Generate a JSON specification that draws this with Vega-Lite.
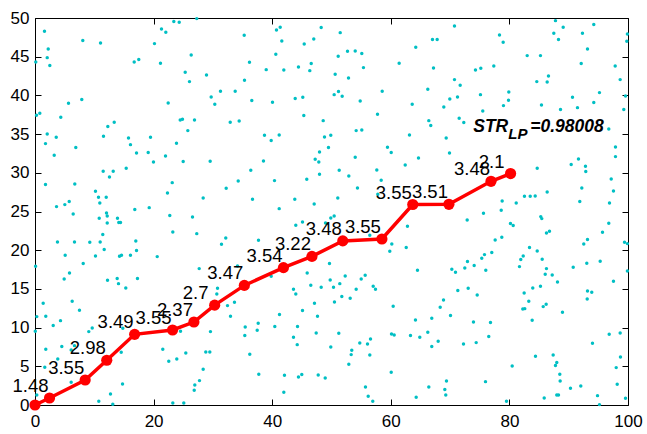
{
  "$schema": "https://vega.github.io/schema/vega-lite/v6.json",
  "width": 593,
  "height": 387,
  "autosize": "none",
  "padding": {"left": 35, "top": 18, "right": 19, "bottom": 29},
  "background": "white",
  "config": {
    "view": {"stroke": null},
    "axis": {
      "domainColor": "#000000",
      "domainWidth": 1,
      "tickColor": "#000000",
      "tickWidth": 1,
      "tickSize": -6,
      "grid": false,
      "labelFont": "Liberation Sans",
      "labelFontSize": 17,
      "labelColor": "#000000",
      "labelFlush": false,
      "labelOverlap": false
    }
  },
  "datasets": {
    "dots": [
      {"x":1.60,"y":48.28},{"x":8.06,"y":47.08},{"x":11.05,"y":46.77},{"x":2.23,"y":46.0},{"x":2.06,"y":44.88},{"x":0.13,"y":44.32},{"x":2.50,"y":43.85},{"x":20.15,"y":46.69},{"x":21.33,"y":48.58},{"x":22.06,"y":48.15},{"x":23.41,"y":49.54},{"x":24.32,"y":49.44},{"x":27.28,"y":49.92},{"x":26.34,"y":45.22},{"x":16.73,"y":44.32},{"x":17.50,"y":44.63},{"x":21.16,"y":44.15},{"x":25.33,"y":42.98},{"x":26.05,"y":41.78},{"x":28.92,"y":42.64},{"x":31.28,"y":40.53},{"x":29.71,"y":39.79},{"x":30.32,"y":38.85},{"x":5.65,"y":38.98},{"x":7.89,"y":39.46},{"x":22.46,"y":39.02},{"x":0.81,"y":37.69},{"x":0.25,"y":37.43},{"x":4.35,"y":37.17},{"x":13.36,"y":36.52},{"x":12.28,"y":35.97},{"x":24.49,"y":36.82},{"x":24.87,"y":36.91},{"x":26.90,"y":36.82},{"x":32.92,"y":36.52},{"x":25.77,"y":35.45},{"x":2.06,"y":35.01},{"x":3.58,"y":34.59},{"x":11.55,"y":34.72},{"x":15.77,"y":34.50},{"x":19.48,"y":34.59},{"x":1.77,"y":33.77},{"x":16.10,"y":33.64},{"x":23.86,"y":33.81},{"x":6.88,"y":33.26},
      {"x":35.28,"y":47.77},{"x":40.72,"y":48.45},{"x":41.35,"y":48.80},{"x":48.26,"y":48.76},{"x":51.47,"y":48.11},{"x":41.62,"y":47.03},{"x":45.40,"y":46.64},{"x":47.01,"y":47.29},{"x":64.21,"y":46.21},{"x":40.61,"y":45.31},{"x":51.13,"y":45.05},{"x":52.70,"y":45.70},{"x":54.00,"y":45.74},{"x":55.11,"y":45.40},{"x":36.17,"y":44.28},{"x":38.99,"y":43.33},{"x":41.96,"y":43.28},{"x":44.43,"y":43.67},{"x":46.58,"y":44.11},{"x":46.34,"y":43.20},{"x":50.62,"y":42.73},{"x":55.39,"y":43.59},{"x":61.41,"y":44.15},{"x":52.87,"y":42.25},{"x":35.33,"y":41.95},{"x":33.76,"y":40.53},{"x":36.56,"y":39.33},{"x":40.05,"y":39.11},{"x":43.88,"y":39.59},{"x":45.16,"y":39.76},{"x":50.45,"y":40.10},{"x":51.18,"y":40.49},{"x":51.80,"y":39.88},{"x":54.84,"y":39.28},{"x":58.55,"y":40.53},{"x":66.24,"y":40.79},{"x":63.61,"y":38.85},{"x":45.33,"y":37.39},{"x":48.60,"y":36.74},{"x":57.76,"y":37.56},{"x":34.43,"y":36.69},{"x":66.41,"y":36.74},{"x":38.70,"y":34.85},{"x":39.83,"y":34.16},{"x":41.18,"y":34.88},{"x":48.82,"y":34.63},{"x":49.88,"y":34.85},{"x":54.16,"y":35.45},{"x":55.11,"y":35.53},{"x":63.15,"y":34.88},{"x":49.49,"y":33.26},{"x":59.44,"y":33.29},
      {"x":70.74,"y":48.97},{"x":67.03,"y":47.21},{"x":67.82,"y":47.21},{"x":78.33,"y":47.80},{"x":78.95,"y":46.86},{"x":87.77,"y":49.66},{"x":89.07,"y":48.80},{"x":87.49,"y":48.02},{"x":88.28,"y":47.21},{"x":92.32,"y":48.02},{"x":94.23,"y":49.15},{"x":93.17,"y":46.0},{"x":99.9,"y":47.93},{"x":99.80,"y":46.99},{"x":83.00,"y":45.14},{"x":85.24,"y":45.14},{"x":67.20,"y":43.54},{"x":74.28,"y":43.28},{"x":75.18,"y":43.50},{"x":77.37,"y":43.80},{"x":92.11,"y":44.11},{"x":97.84,"y":43.80},{"x":70.74,"y":42.04},{"x":71.70,"y":41.31},{"x":86.59,"y":42.51},{"x":84.62,"y":41.78},{"x":86.37,"y":41.73},{"x":98.68,"y":42.04},{"x":69.95,"y":39.54},{"x":71.25,"y":39.79},{"x":75.12,"y":40.10},{"x":79.90,"y":40.44},{"x":79.85,"y":39.37},{"x":68.94,"y":38.50},{"x":79.00,"y":38.68},{"x":85.41,"y":38.76},{"x":90.64,"y":39.76},{"x":95.19,"y":40.36},{"x":99.58,"y":39.92},{"x":94.23,"y":39.07},{"x":91.48,"y":38.42},{"x":88.62,"y":38.17},{"x":99.29,"y":38.17},{"x":75.51,"y":37.98},{"x":66.74,"y":36.10},{"x":71.53,"y":37.04},{"x":72.31,"y":36.49},{"x":69.34,"y":34.50},{"x":96.76,"y":35.66},{"x":97.89,"y":33.33},
      {"x":3.24,"y":32.26},{"x":17.12,"y":32.56},{"x":19.09,"y":32.61},{"x":22.01,"y":32.17},{"x":19.98,"y":31.40},{"x":24.99,"y":31.45},{"x":29.54,"y":31.49},{"x":11.50,"y":30.19},{"x":13.19,"y":30.19},{"x":15.38,"y":30.58},{"x":12.56,"y":29.46},{"x":1.77,"y":28.48},{"x":6.71,"y":28.55},{"x":23.14,"y":28.73},{"x":32.24,"y":28.00},{"x":10.20,"y":27.61},{"x":10.71,"y":26.83},{"x":12.01,"y":26.83},{"x":22.34,"y":27.39},{"x":28.36,"y":26.74},{"x":3.63,"y":25.63},{"x":5.03,"y":25.89},{"x":5.77,"y":26.28},{"x":10.93,"y":26.10},{"x":6.44,"y":24.68},{"x":12.06,"y":24.81},{"x":12.18,"y":24.42},{"x":10.83,"y":24.12},{"x":13.91,"y":24.12},{"x":16.83,"y":25.25},{"x":19.26,"y":25.50},{"x":22.73,"y":24.47},{"x":26.56,"y":24.29},{"x":12.18,"y":23.51},{"x":14.13,"y":23.57},{"x":14.42,"y":23.57},{"x":23.24,"y":22.35},{"x":27.28,"y":22.14},{"x":11.43,"y":22.02},{"x":32.17,"y":21.58},{"x":31.45,"y":20.76},{"x":3.79,"y":21.06},{"x":6.66,"y":21.06},{"x":9.24,"y":21.02},{"x":10.99,"y":21.06},{"x":17.00,"y":21.19},{"x":11.67,"y":20.08},{"x":17.12,"y":19.95},{"x":5.09,"y":19.34},{"x":10.20,"y":19.25},{"x":14.25,"y":19.21},{"x":14.59,"y":19.34},{"x":16.10,"y":19.34},{"x":20.61,"y":19.17},{"x":0.1,"y":17.92},{"x":8.13,"y":18.27},{"x":5.82,"y":17.05},{"x":27.69,"y":17.62},{"x":4.92,"y":16.28},{"x":13.86,"y":16.33},{"x":17.28,"y":16.33},{"x":12.23,"y":16.11},
      {"x":47.98,"y":32.69},{"x":60.07,"y":32.61},{"x":38.53,"y":31.52},{"x":47.25,"y":31.74},{"x":47.86,"y":31.40},{"x":54.00,"y":32.00},{"x":64.67,"y":31.91},{"x":36.39,"y":30.32},{"x":51.30,"y":30.32},{"x":57.64,"y":30.36},{"x":62.43,"y":31.01},{"x":34.27,"y":28.94},{"x":40.39,"y":28.99},{"x":45.83,"y":29.16},{"x":47.98,"y":29.81},{"x":52.92,"y":29.59},{"x":58.38,"y":29.03},{"x":54.38,"y":28.04},{"x":36.68,"y":26.58},{"x":43.81,"y":26.58},{"x":51.06,"y":26.74},{"x":57.81,"y":27.22},{"x":41.18,"y":25.37},{"x":47.08,"y":25.97},{"x":49.88,"y":24.16},{"x":50.45,"y":24.42},{"x":48.99,"y":23.51},{"x":45.11,"y":23.64},{"x":43.98,"y":23.22},{"x":62.81,"y":23.09},{"x":56.46,"y":21.93},{"x":37.69,"y":21.28},{"x":60.17,"y":20.80},{"x":59.83,"y":19.86},{"x":62.60,"y":20.34},{"x":34.15,"y":17.96},{"x":49.66,"y":18.27},{"x":45.90,"y":17.05},{"x":52.31,"y":16.67},{"x":55.68,"y":16.76},{"x":55.01,"y":16.28},{"x":64.50,"y":17.40},{"x":39.83,"y":16.63},
      {"x":69.90,"y":32.56},{"x":84.69,"y":30.58},{"x":90.42,"y":31.06},{"x":91.65,"y":31.78},{"x":92.83,"y":30.84},{"x":92.88,"y":30.16},{"x":97.89,"y":32.09},{"x":97.17,"y":29.20},{"x":92.21,"y":28.04},{"x":97.55,"y":27.65},{"x":86.37,"y":27.52},{"x":82.54,"y":26.96},{"x":83.51,"y":26.96},{"x":84.35,"y":27.00},{"x":78.78,"y":26.36},{"x":81.15,"y":26.10},{"x":91.87,"y":26.28},{"x":96.88,"y":26.10},{"x":75.63,"y":24.77},{"x":78.62,"y":25.16},{"x":72.88,"y":23.90},{"x":85.29,"y":24.34},{"x":85.46,"y":24.08},{"x":80.18,"y":23.44},{"x":80.64,"y":23.18},{"x":96.76,"y":23.48},{"x":86.76,"y":22.44},{"x":86.25,"y":22.22},{"x":95.70,"y":22.31},{"x":78.72,"y":21.67},{"x":77.60,"y":21.32},{"x":93.17,"y":21.37},{"x":92.54,"y":20.80},{"x":99.41,"y":21.02},{"x":99.9,"y":20.85},{"x":83.39,"y":20.34},{"x":84.69,"y":19.90},{"x":77.03,"y":19.69},{"x":75.80,"y":19.43},{"x":75.34,"y":18.95},{"x":82.33,"y":19.25},{"x":81.92,"y":18.79},{"x":85.53,"y":18.82},{"x":72.93,"y":18.53},{"x":74.06,"y":18.01},{"x":72.48,"y":17.70},{"x":70.29,"y":17.53},{"x":70.91,"y":17.14},{"x":76.02,"y":17.40},{"x":81.70,"y":17.88},{"x":86.25,"y":17.62},{"x":86.04,"y":16.89},{"x":87.22,"y":16.80},{"x":90.76,"y":17.79},{"x":93.05,"y":18.31},{"x":95.31,"y":18.57},{"x":99.9,"y":17.31},
      {"x":14.08,"y":15.68},{"x":15.31,"y":15.12},{"x":1.38,"y":13.14},{"x":6.27,"y":13.40},{"x":7.50,"y":12.24},{"x":0.30,"y":11.42},{"x":1.82,"y":11.46},{"x":4.30,"y":10.90},{"x":3.07,"y":10.26},{"x":0.05,"y":9.52},{"x":9.65,"y":9.95},{"x":9.07,"y":9.48},{"x":14.81,"y":9.91},{"x":1.82,"y":7.20},{"x":4.52,"y":7.55},{"x":6.10,"y":7.11},{"x":6.66,"y":7.67},{"x":3.84,"y":5.94},{"x":1.65,"y":4.87},{"x":14.54,"y":6.81},{"x":14.76,"y":2.71},{"x":6.10,"y":2.93},{"x":12.73,"y":1.42},{"x":10.76,"y":0.48},{"x":13.12,"y":0.09},{"x":0.30,"y":1.29},{"x":30.78,"y":15.08},{"x":30.66,"y":14.34},{"x":32.97,"y":11.46},{"x":29.59,"y":9.48},{"x":24.54,"y":9.52},{"x":21.55,"y":7.20},{"x":22.56,"y":5.65},{"x":23.91,"y":5.94},{"x":25.43,"y":6.72},{"x":28.80,"y":6.85},{"x":29.48,"y":6.85},{"x":28.36,"y":4.61},{"x":27.74,"y":3.15},{"x":26.95,"y":2.58},{"x":26.85,"y":1.90},{"x":23.24,"y":0.26},{"x":25.09,"y":0.26},
      {"x":32.46,"y":12.84},{"x":33.64,"y":13.27},{"x":43.59,"y":14.95},{"x":43.98,"y":14.34},{"x":46.51,"y":15.47},{"x":48.26,"y":15.21},{"x":49.78,"y":16.15},{"x":50.34,"y":15.21},{"x":51.40,"y":15.68},{"x":54.16,"y":14.95},{"x":57.03,"y":15.34},{"x":57.42,"y":14.95},{"x":51.74,"y":14.01},{"x":53.15,"y":13.79},{"x":47.13,"y":13.14},{"x":50.50,"y":13.31},{"x":45.11,"y":12.20},{"x":47.64,"y":11.46},{"x":60.40,"y":12.75},{"x":41.23,"y":11.68},{"x":35.45,"y":10.08},{"x":37.64,"y":10.56},{"x":37.47,"y":9.65},{"x":40.44,"y":10.13},{"x":44.27,"y":10.13},{"x":35.38,"y":8.97},{"x":43.59,"y":8.75},{"x":47.42,"y":9.30},{"x":51.23,"y":9.26},{"x":44.22,"y":7.80},{"x":49.88,"y":7.49},{"x":54.77,"y":8.01},{"x":56.07,"y":7.88},{"x":56.58,"y":8.53},{"x":60.12,"y":9.17},{"x":60.57,"y":9.04},{"x":64.16,"y":10.98},{"x":63.32,"y":8.97},{"x":64.89,"y":8.75},{"x":66.24,"y":9.39},{"x":36.22,"y":6.55},{"x":53.42,"y":7.07},{"x":53.32,"y":6.51},{"x":56.46,"y":6.46},{"x":52.92,"y":5.26},{"x":37.74,"y":3.97},{"x":42.07,"y":3.84},{"x":44.43,"y":3.62},{"x":44.99,"y":3.93},{"x":47.76,"y":3.88},{"x":48.94,"y":3.49},{"x":60.07,"y":4.22},{"x":41.96,"y":1.64},{"x":55.73,"y":2.33},{"x":56.19,"y":1.12},{"x":56.96,"y":0.48},{"x":64.28,"y":0.99},{"x":66.41,"y":2.33},
      {"x":71.30,"y":14.78},{"x":73.05,"y":15.08},{"x":74.57,"y":14.21},{"x":68.89,"y":13.57},{"x":68.33,"y":12.62},{"x":66.91,"y":11.20},{"x":70.07,"y":11.55},{"x":67.99,"y":8.23},{"x":66.91,"y":7.55},{"x":72.26,"y":7.88},{"x":74.40,"y":8.06},{"x":73.94,"y":10.72},{"x":76.81,"y":10.65},{"x":76.52,"y":8.84},{"x":82.49,"y":14.47},{"x":83.94,"y":15.12},{"x":85.24,"y":15.34},{"x":88.11,"y":15.89},{"x":83.27,"y":13.40},{"x":82.26,"y":12.40},{"x":82.59,"y":12.45},{"x":85.70,"y":12.71},{"x":86.20,"y":13.01},{"x":88.95,"y":11.98},{"x":83.84,"y":10.94},{"x":93.17,"y":14.73},{"x":93.89,"y":14.56},{"x":93.12,"y":13.70},{"x":97.55,"y":15.98},{"x":96.83,"y":9.13},{"x":98.68,"y":9.30},{"x":94.01,"y":7.97},{"x":98.73,"y":6.20},{"x":98.01,"y":4.83},{"x":84.40,"y":6.29},{"x":87.38,"y":6.46},{"x":87.99,"y":5.48},{"x":87.77,"y":5.09},{"x":88.50,"y":3.97},{"x":88.56,"y":3.10},{"x":80.47,"y":5.04},{"x":75.97,"y":3.02},{"x":69.39,"y":3.10},{"x":69.11,"y":1.99},{"x":69.27,"y":1.29},{"x":79.51,"y":0.48},{"x":85.87,"y":0.90},{"x":87.99,"y":1.29},{"x":88.28,"y":1.29},{"x":90.30,"y":2.16},{"x":92.04,"y":2.45},{"x":94.86,"y":1.21},{"x":95.19,"y":0.05},{"x":98.18,"y":2.67},{"x":99.58,"y":0.87}
    ],
    "path": [
      {"x":0,"y":0,"lab":""},
      {"x":2.45,"y":0.9,"lab":"1.48"},
      {"x":8.46,"y":3.23,"lab":"3.55"},
      {"x":12.1,"y":5.78,"lab":"2.98"},
      {"x":16.8,"y":9.13,"lab":"3.49"},
      {"x":23.2,"y":9.69,"lab":"3.55"},
      {"x":26.8,"y":10.72,"lab":"2.37"},
      {"x":30.3,"y":12.9,"lab":"2.7"},
      {"x":35.3,"y":15.45,"lab":"3.47"},
      {"x":41.9,"y":17.75,"lab":"3.54"},
      {"x":46.7,"y":19.2,"lab":"3.22"},
      {"x":51.9,"y":21.2,"lab":"3.48"},
      {"x":58.5,"y":21.45,"lab":"3.55"},
      {"x":63.7,"y":25.9,"lab":"3.55"},
      {"x":69.8,"y":25.93,"lab":"3.51"},
      {"x":76.9,"y":28.9,"lab":"3.48"},
      {"x":80.2,"y":29.9,"lab":"2.1"}
    ],
    "note": [{"x":73.9,"y":35.3}]
  },
  "layer": [
    {
      "data": {"name": "dots"},
      "mark": {"type": "circle", "color": "#00BFC4", "size": 12, "opacity": 1},
      "encoding": {
        "x": {"field": "x", "type": "quantitative", "scale": {"domain": [0, 100], "nice": false},
              "axis": {"orient": "bottom", "title": null, "values": [0,20,40,60,80,100], "labelPadding": 14}},
        "y": {"field": "y", "type": "quantitative", "scale": {"domain": [0, 50], "nice": false},
              "axis": {"orient": "left", "title": null, "values": [0,5,10,15,20,25,30,35,40,45,50], "labelPadding": 12}}
      }
    },
    {
      "data": {"name": "path"},
      "encoding": {
        "x": {"field": "x", "type": "quantitative", "scale": {"domain": [0, 100], "nice": false},
              "axis": {"orient": "top", "title": null, "labels": false, "values": [0,20,40,60,80,100]}},
        "y": {"field": "y", "type": "quantitative", "scale": {"domain": [0, 50], "nice": false},
              "axis": {"orient": "right", "title": null, "labels": false, "values": [0,5,10,15,20,25,30,35,40,45,50]}}
      },
      "layer": [
        {"mark": {"type": "line", "color": "#FF0000", "strokeWidth": 3.5}},
        {"mark": {"type": "circle", "color": "#FF0000", "size": 125, "opacity": 1}},
        {"mark": {"type": "text", "font": "Liberation Sans", "fontSize": 18.5, "color": "#000000", "align": "center", "baseline": "bottom", "dx": -19, "dy": -2},
         "encoding": {"text": {"field": "lab"}}}
      ]
    },
    {
      "data": {"name": "note"},
      "encoding": {
        "x": {"field": "x", "type": "quantitative", "scale": {"domain": [0, 100], "nice": false}, "axis": null},
        "y": {"field": "y", "type": "quantitative", "scale": {"domain": [0, 50], "nice": false}, "axis": null}
      },
      "layer": [
        {"mark": {"type": "text", "text": "STR", "font": "Liberation Sans", "fontSize": 17.5, "fontWeight": "bold", "fontStyle": "italic", "align": "left", "baseline": "alphabetic", "color": "#000000"}},
        {"mark": {"type": "text", "text": "LP", "font": "Liberation Sans", "fontSize": 15, "fontWeight": "bold", "fontStyle": "italic", "align": "left", "baseline": "alphabetic", "dx": 35, "dy": 7.5, "color": "#000000"}},
        {"mark": {"type": "text", "text": "=0.98008", "font": "Liberation Sans", "fontSize": 17.5, "fontWeight": "bold", "fontStyle": "italic", "align": "left", "baseline": "alphabetic", "dx": 57, "color": "#000000"}}
      ]
    }
  ],
  "resolve": {"axis": {"x": "independent", "y": "independent"}}
}
